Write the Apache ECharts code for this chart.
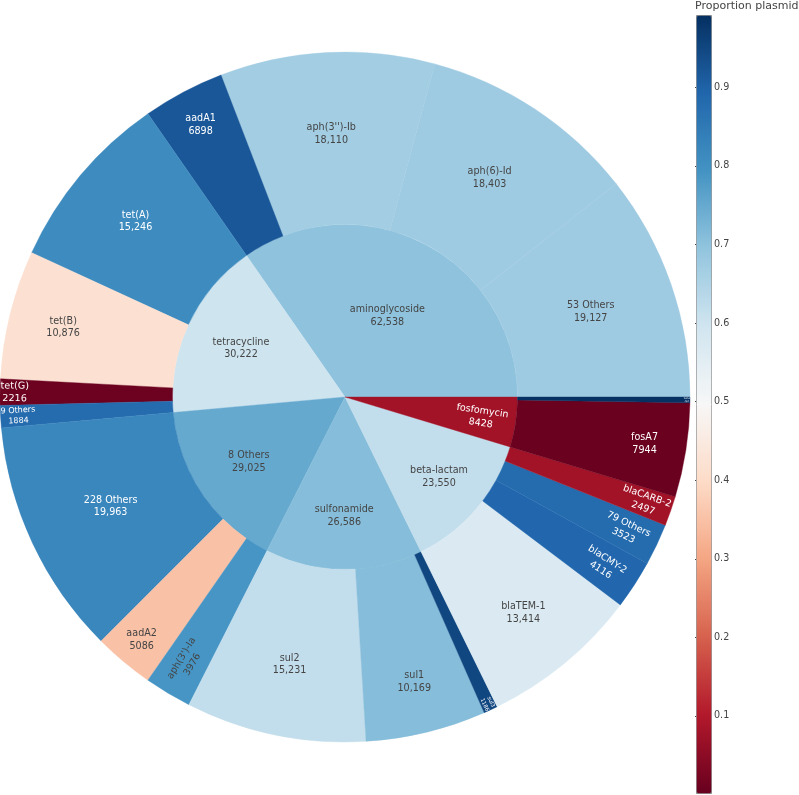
<!DOCTYPE html>
<html><head><meta charset="utf-8">
<script src="https://cdn.jsdelivr.net/npm/echarts@6/dist/echarts.min.js"></script>
<style>html,body{margin:0;padding:0;background:#fff}#c{width:799px;height:795px}</style>
</head><body><div id="c"></div>
<script>
// ---- data ----
const classNames   = ['aminoglycoside', 'tetracycline', '8 Others', 'sulfonamide', 'beta-lactam', 'fosfomycin'];
const classValues  = [62538, 30222, 29025, 26586, 23550, 8428];
const classPlasmid = [0.70, 0.60, 0.75, 0.71, 0.62, 0.08];

const geneParents = ['aminoglycoside','aminoglycoside','aminoglycoside','aminoglycoside',
                     'tetracycline','tetracycline','tetracycline','tetracycline',
                     '8 Others','8 Others','8 Others',
                     'sulfonamide','sulfonamide','sulfonamide',
                     'beta-lactam','beta-lactam','beta-lactam','beta-lactam',
                     'fosfomycin','fosfomycin'];
const geneNames   = ['53 Others','aph(6)-Id',"aph(3'')-Ib",'aadA1',
                     'tet(A)','tet(B)','tet(G)','9 Others',
                     '228 Others','aadA2',"aph(3')-Ia",
                     'sul2','sul1','sul3',
                     'blaTEM-1','blaCMY-2','79 Others','blaCARB-2',
                     'fosA7','fosA3'];
const geneValues  = [19127, 18403, 18110, 6898,
                     15246, 10876, 2216, 1884,
                     19963, 5086, 3976,
                     15231, 10169, 1186,
                     13414, 4116, 3523, 2497,
                     7944, 484];
const genePlasmid = [0.675, 0.675, 0.67, 0.92,
                     0.81, 0.42, 0.01, 0.88,
                     0.82, 0.35, 0.79,
                     0.62, 0.71, 0.95,
                     0.57, 0.89, 0.88, 0.08,
                     0.005, 0.99];

const colorbarTicks = [0.1, 0.2, 0.3, 0.4, 0.5, 0.6, 0.7, 0.8, 0.9];
const colorMin = 0.002, colorMax = 0.992;
const colorbarTitle = 'Proportion plasmid';

// ---- styling / geometry ----
const RDBU = ['#67001f','#b2182b','#d6604d','#f4a582','#fddbc7','#f7f7f7','#d1e5f0','#92c5de','#4393c3','#2166ac','#053061'];
const FONT = 'DejaVu Sans';
const BASE_FS = 9.6, LINE_H = 1.3, TEXTPAD = 2.4;
const CX = 345, CY = 397, R_IN = 172.5, R_OUT = 345;

function colorFor(p) {
  const t = Math.max(0, Math.min(1, (p - colorMin) / (colorMax - colorMin)));
  return echarts.color.lerp(t, RDBU);
}
function textColorFor(c) {
  const rgb = echarts.color.parse(c);
  const b = (rgb[0] * 299 + rgb[1] * 587 + rgb[2] * 114) / 1000;
  return b < 128 ? '#ffffff' : '#444444';
}
function fmt(v) { return v >= 10000 ? v.toLocaleString('en-US') : String(v); }

// text-fitting (auto orientation) for labels inside sectors
const mctx = document.createElement('canvas').getContext('2d');
function measure(lines, fs) {
  mctx.font = fs + 'px ' + FONT;
  const w = Math.max.apply(null, lines.map(l => mctx.measureText(l).width));
  const h = fs * (1.2 + LINE_H * (lines.length - 1));
  return {w, h};
}
function maxHalf(a, half, r, ring) {
  const q = a + 1 / (2 * Math.tan(half));
  return r * Math.min(1 / (Math.sqrt(q * q + 0.5) + q), ring / (Math.sqrt(a * a + ring / 2) + a));
}
function fitText(w, h, rp0, rp1, half) {
  const ring = 1 - rp0 / rp1;
  const rIns = Math.max(0, Math.min(1 / (1 + 1 / Math.sin(half)), ring / 2));
  const hor = {kind: 0, scale: rIns * rp1 * 2 / Math.sqrt(w * w + h * h), rc: 1 - rIns};
  if (hor.scale >= 1) return hor;
  const r = Math.max(0, rp1 - 2 * TEXTPAD);
  let a = w / h, s = maxHalf(a, half, r, ring);
  const rad = {kind: 'radial', scale: s * 2 / h, rc: Math.cos(s / r) - a * s / r};
  a = h / w; s = maxHalf(a, half, r, ring);
  const tan = {kind: 'tangential', scale: s * 2 / w, rc: Math.cos(s / r) - a * s / r};
  return [hor, rad, tan].reduce((b, t) => t.scale > b.scale ? t : b);
}
function normRad(x) { const p = Math.PI * 2; return ((x % p) + p) % p; }

function labelFor(name, value, startFrac, endFrac, rp0, rp1, textColor) {
  const lines = [name, fmt(value)];
  const bb = measure(lines, BASE_FS);
  const half = (endFrac - startFrac) * Math.PI;          // half angle (rad)
  const theta = (startFrac + endFrac) * Math.PI;         // mid angle, ccw from 3 o'clock
  const fit = fitText(bb.w, bb.h, rp0, rp1, half);
  const fs = BASE_FS * Math.min(1, fit.scale);
  const lh = fs * LINE_H;
  const target = fit.rc * rp1;
  const anchor = (rp0 + rp1) / 2;
  const delta = target - anchor;
  // rotation applied by the library
  const m = -theta;
  let rho = 0;
  if (fit.kind) {
    const mn = normRad(fit.kind === 'tangential' ? Math.PI / 2 - m : m);
    const flip = mn > Math.PI / 2 && Math.abs(mn - Math.PI / 2) > 1e-4 && mn < Math.PI * 1.5;
    rho = normRad((fit.kind === 'radial' ? normRad(-m) : normRad(Math.PI / 2 - m)) + (flip ? Math.PI : 0));
  }
  const dx = delta * Math.cos(theta), dy = -delta * Math.sin(theta);
  const lx = dx * Math.cos(rho) - dy * Math.sin(rho);
  const ly = dx * Math.sin(rho) + dy * Math.cos(rho);
  return {
    color: textColor, fontSize: fs, lineHeight: lh,
    rotate: fit.kind || 0,
    verticalAlign: 'top',
    padding: [ly - lines.length * lh / 2, Math.max(0, -2 * lx), 0, Math.max(0, 2 * lx)]
  };
}

const total = classValues.reduce((a, b) => a + b, 0);
let acc = 0;
const data = classNames.map((cn, i) => {
  const s0 = acc / total;
  const kids = [];
  let kacc = acc;
  geneNames.forEach((g, j) => {
    if (geneParents[j] !== cn) return;
    const c = colorFor(genePlasmid[j]);
    const ks = kacc / total; kacc += geneValues[j]; const ke = kacc / total;
    kids.push({
      name: g, value: geneValues[j],
      itemStyle: {color: c, borderColor: c, borderWidth: 0.4},
      label: labelFor(g, geneValues[j], ks, ke, R_IN, R_OUT, textColorFor(c))
    });
  });
  acc += classValues[i];
  const c = colorFor(classPlasmid[i]);
  return {
    name: cn, value: classValues[i],
    itemStyle: {color: c, borderColor: c, borderWidth: 0.4},
    label: labelFor(cn, classValues[i], s0, acc / total, 0, R_IN, textColorFor(c)),
    children: kids
  };
});

const chart = echarts.init(document.getElementById('c'), null, {renderer: 'canvas'});
chart.setOption({
  backgroundColor: '#ffffff',
  animation: false,
  title: {
    text: colorbarTitle, left: 695, top: 1, padding: 0,
    textStyle: {fontSize: 11, fontWeight: 'normal', color: '#444', fontFamily: FONT}
  },
  grid: {left: 695, top: 15, width: 16, height: 778},
  xAxis: {type: 'value', show: false},
  yAxis: {
    type: 'value', position: 'right', min: colorMin, max: colorMax,
    axisLine: {show: false}, splitLine: {show: false},
    axisTick: {show: true, length: 3, lineStyle: {color: '#444'}, customValues: colorbarTicks},
    axisLabel: {customValues: colorbarTicks, formatter: v => v.toFixed(1), fontSize: 9.6, color: '#444', margin: 3, fontFamily: FONT}
  },
  visualMap: {
    type: 'continuous', min: colorMin, max: colorMax, seriesIndex: 1,
    left: 696, top: 15, itemWidth: 15, itemHeight: 778,
    calculable: false, showLabel: false, padding: 0,
    borderColor: '#888', borderWidth: 1,
    inRange: {color: RDBU}
  },
  series: [{
    type: 'sunburst',
    center: [CX, CY],
    radius: [0, R_OUT],
    startAngle: 0,
    clockwise: false,
    sort: null,
    data: data,
    emphasis: {disabled: true},
    itemStyle: {borderWidth: 0},
    label: {
      minAngle: 0, fontFamily: FONT, fontSize: BASE_FS,
      formatter: p => p.name + '\n' + fmt(p.value)
    },
    levels: [{}, {r0: 0, r: R_IN}, {r0: R_IN, r: R_OUT}]
  }, {
    type: 'scatter', data: [], silent: true
  }]
});
</script></body></html>
